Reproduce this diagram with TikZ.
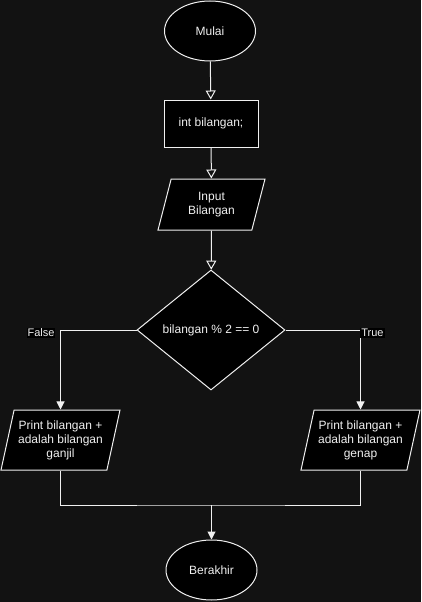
\documentclass[tikz,border=0pt]{standalone}
\usepackage{fontspec}
\setmainfont{Liberation Sans}
\usetikzlibrary{shapes.geometric,arrows.meta}
\definecolor{bgdark}{RGB}{18,18,18}
\definecolor{fgwhite}{RGB}{240,240,240}

\tikzset{
  shapebase/.style={draw=fgwhite,fill=black,line width=1pt,text=fgwhite,inner sep=0pt,
    align=center,font=\fontsize{12}{14}\selectfont},
  terminal/.style={shapebase,ellipse,minimum width=91pt,minimum height=60pt},
  process/.style={shapebase,rectangle,minimum width=94pt,minimum height=47pt},
  decision/.style={shapebase,diamond,minimum width=148pt,minimum height=120pt},
  iobox/.style={shapebase,trapezium,trapezium stretches body=true},
  branchlabel/.style={fill=black,text=fgwhite,inner sep=1pt,font=\fontsize{11}{13}\selectfont},
  flowline/.style={draw=fgwhite,line width=1pt},
  openarrow/.style={flowline,-{Triangle[open,width=10pt,length=9pt]}},
  fillarrow/.style={flowline,-{Triangle[width=8pt,length=8pt]}}
}

\begin{document}
\begin{tikzpicture}[x=1pt,y=-1pt]
  \fill[bgdark] (0,0) rectangle (421,602);
  \useasboundingbox (0,0) rectangle (421,602);

  \node (mulai) at (210,31) [terminal] {Mulai};
  \node (deklarasi) at (211,123.5) [process] {int bilangan;};
  \node (input) at (211.5,204.5) [iobox,trapezium left angle=62,trapezium right angle=118,
    minimum width=107pt,minimum height=51pt] {Input\\Bilangan};
  \node (cek) at (211,330) [decision] {bilangan \% 2 == 0};
  \node (ganjil) at (60.5,440) [iobox,trapezium left angle=71.5,trapezium right angle=108.5,
    minimum width=119pt,minimum height=60pt] {Print bilangan +\\adalah bilangan\\ganjil};
  \node (genap) at (360.5,440) [iobox,trapezium left angle=71.5,trapezium right angle=108.5,
    minimum width=119pt,minimum height=60pt] {Print bilangan +\\adalah bilangan\\genap};
  \node (berakhir) at (211.5,570) [terminal] {Berakhir};
  \coordinate (gabung) at (211.5,505);

  \draw[openarrow] (mulai) -- (deklarasi);
  \draw[openarrow] (deklarasi) -- (input);
  \draw[openarrow] (input) -- (cek);
  \draw[fillarrow] (cek.west) -| (ganjil.north);
  \draw[fillarrow] (cek.east) -| (genap.north);
  \draw[flowline] (ganjil.south) |- (gabung) -| (genap.south);
  \draw[fillarrow] (gabung) -- (berakhir);

  \node (false) at (41,333) [branchlabel] {False};
  \node (true) at (372.5,333) [branchlabel] {True};
\end{tikzpicture}
\end{document}
